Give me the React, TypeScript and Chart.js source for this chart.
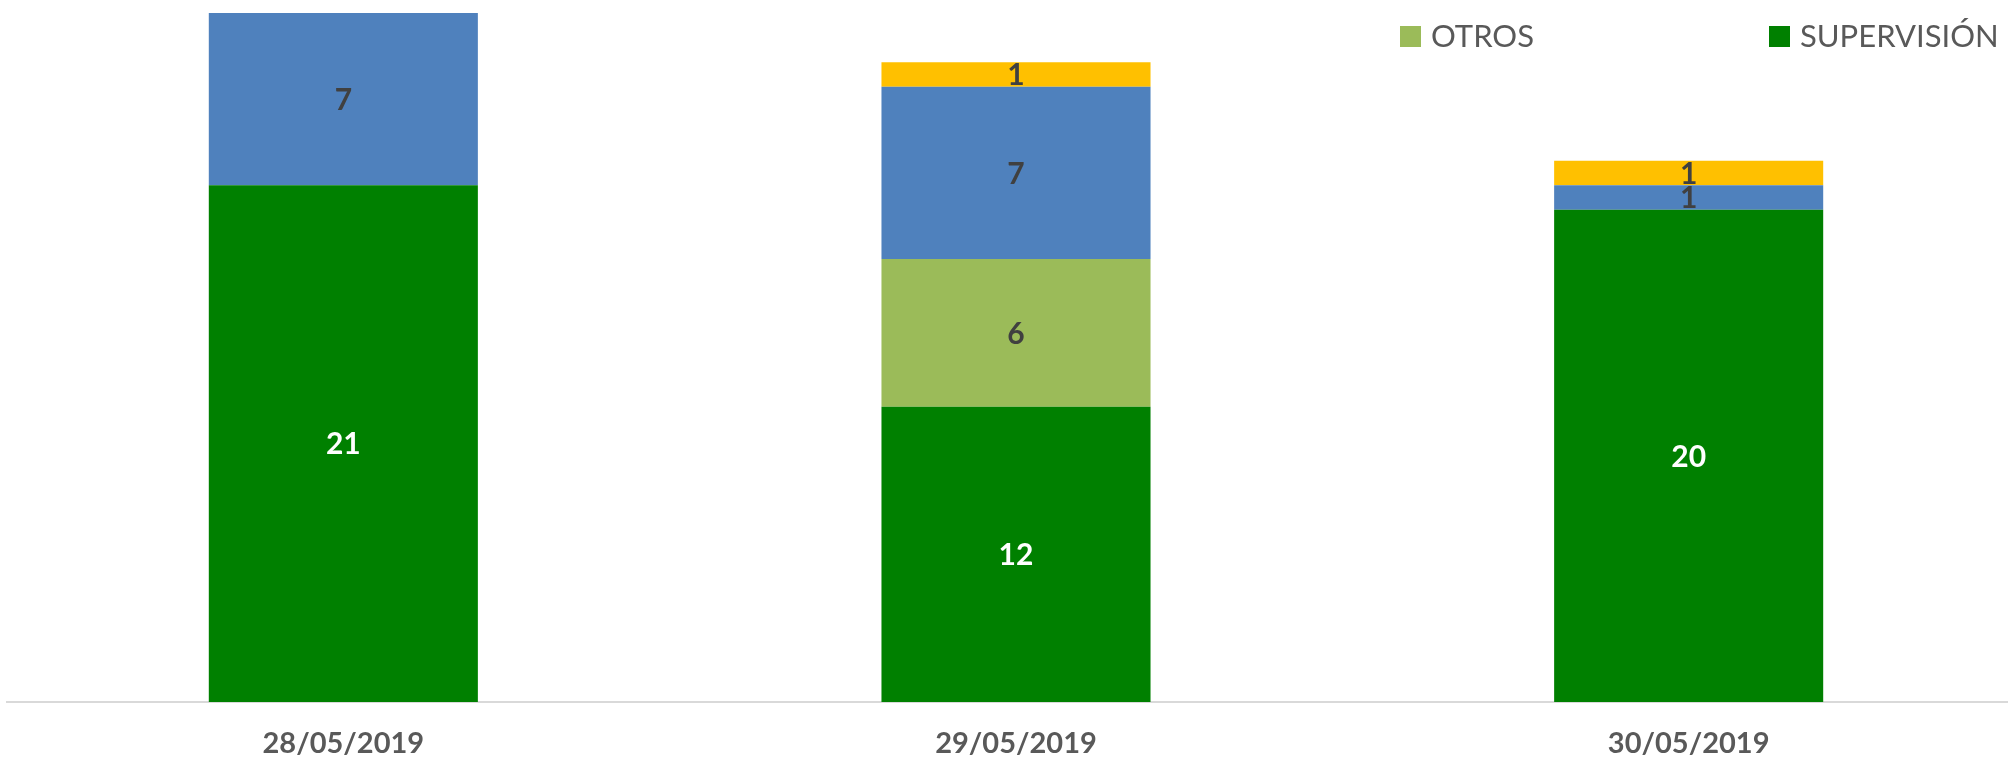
import React, { useEffect, useRef } from "react";
import { Chart, registerables } from "chart.js";

Chart.register(...registerables);

// ---- data ----
const categories = ["28/05/2019", "29/05/2019", "30/05/2019"];
const supervision = [21, 12, 20];
const otros = [0, 6, 0];
const serie3 = [7, 7, 1];
const serie4 = [0, 1, 1];
const yMax = 28;

const valueLabels = {
  id: "valueLabels",
  afterDatasetsDraw(chart: any, _args: any, opts: any) {
    const ctx = chart.ctx;
    ctx.save();
    ctx.font = opts.font;
    ctx.textAlign = "center";
    ctx.textBaseline = "middle";
    chart.data.datasets.forEach((ds: any, i: number) => {
      const meta = chart.getDatasetMeta(i);
      if (meta.hidden) return;
      meta.data.forEach((bar: any, j: number) => {
        const v = ds.data[j];
        if (!v) return;
        const p = bar.getProps(["x", "y", "base"], true);
        ctx.fillStyle = ds.labelColor || "#404040";
        ctx.fillText(String(v), p.x, (p.y + p.base) / 2 + opts.offset);
      });
    });
    ctx.restore();
  },
};

const boxLegend = {
  id: "boxLegend",
  afterDraw(chart: any, _args: any, opts: any) {
    const ctx = chart.ctx;
    ctx.save();
    ctx.font = opts.font;
    ctx.textAlign = "left";
    ctx.textBaseline = "middle";
    opts.items.forEach((dsIndex: number, k: number) => {
      const ds = chart.data.datasets[dsIndex];
      const x = opts.left + k * opts.itemWidth;
      ctx.fillStyle = ds.backgroundColor;
      ctx.fillRect(x, opts.top, opts.box, opts.box);
      ctx.fillStyle = opts.color;
      ctx.fillText(ds.label, x + opts.box + opts.gap, opts.top + opts.box / 2 + opts.textOffset);
    });
    ctx.restore();
  },
};

export default function App() {
  const ref = useRef<HTMLCanvasElement | null>(null);

  useEffect(() => {
    if (!ref.current) return;
    const chart = new Chart(ref.current, {
      type: "bar",
      data: {
        labels: categories,
        datasets: [
          { label: "SUPERVISIÓN", data: supervision, backgroundColor: "#008000", labelColor: "#FFFFFF" } as any,
          { label: "OTROS", data: otros, backgroundColor: "#9BBB59", labelColor: "#404040" } as any,
          { label: "SERIE 3", data: serie3, backgroundColor: "#4F81BD", labelColor: "#404040" } as any,
          { label: "SERIE 4", data: serie4, backgroundColor: "#FFC000", labelColor: "#404040" } as any,
        ],
      },
      options: {
        responsive: false,
        animation: false,
        maintainAspectRatio: false,
        layout: { padding: { left: 7, right: 7, top: 13, bottom: 0 } },
        datasets: { bar: { barPercentage: 0.4, categoryPercentage: 1, borderWidth: 0 } },
        scales: {
          x: {
            stacked: true,
            grid: { display: false, drawTicks: false },
            border: { display: true, color: "#D9D9D9", width: 2 },
            ticks: {
              color: "#595959",
              font: { family: "Lato", size: 29, weight: "bold" },
              padding: 24,
              maxRotation: 0,
              autoSkip: false,
            },
            afterFit: (scale: any) => {
              scale.height = 58;
            },
          },
          y: {
            stacked: true,
            display: false,
            min: 0,
            max: yMax,
          },
        },
        plugins: {
          legend: { display: false },
          tooltip: { enabled: false },
          valueLabels: { font: "bold 30px Lato", offset: 1 },
          boxLegend: {
            items: [1, 0],
            left: 1400,
            top: 26,
            box: 21,
            gap: 10,
            itemWidth: 369,
            font: "31px Lato",
            color: "#595959",
            textOffset: 0,
          },
        } as any,
      },
      plugins: [valueLabels, boxLegend],
    });
    return () => chart.destroy();
  }, []);

  return (
    <div
      style={{
        position: "fixed",
        left: 0,
        top: 0,
        width: 2008,
        height: 760,
        overflow: "hidden",
        background: "#FFFFFF",
      }}
    >
      <canvas ref={ref} width={2032} height={760} style={{ display: "block", width: 2032, height: 760 }} />
    </div>
  );
}
